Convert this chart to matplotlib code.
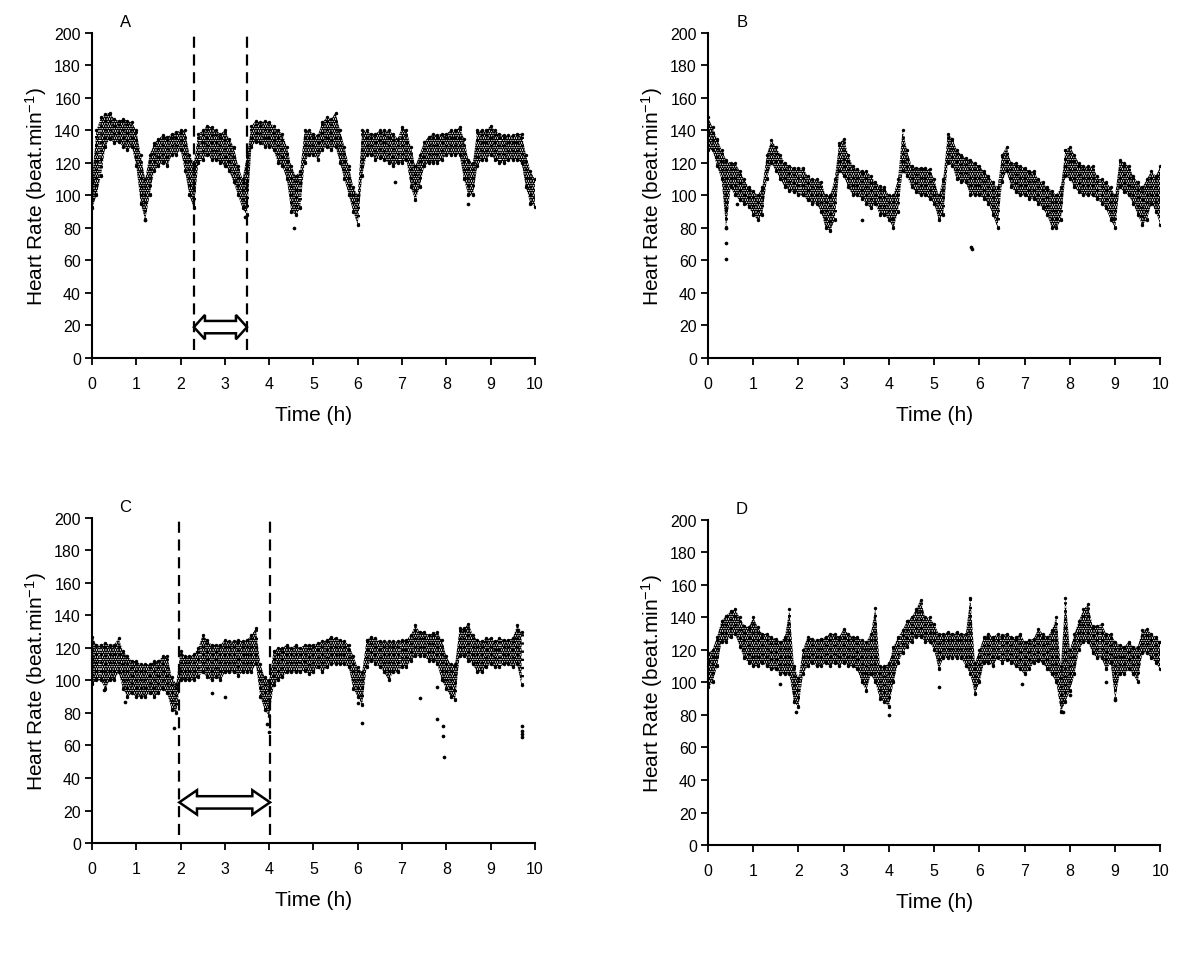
import numpy as np
import matplotlib
matplotlib.use("Agg")
import matplotlib.pyplot as plt
from matplotlib.patches import Polygon

plt.rcParams['font.family'] = ['Liberation Sans', 'DejaVu Sans']
plt.rcParams['mathtext.fontset'] = 'custom'
plt.rcParams['mathtext.rm'] = 'Liberation Sans'
plt.rcParams['mathtext.it'] = 'Liberation Sans'
plt.rcParams['hatch.linewidth'] = 2.2
plt.rcParams['hatch.color'] = 'black'

# time base, 0.1 h steps (panel C ends at 9.7 h)
t_full = [round(0.1 * i, 1) for i in range(101)]
t_c = [round(0.1 * i, 1) for i in range(98)]

# panel A: upper / lower edge of the dot cloud
a_hi = [110, 140, 148, 150, 151, 147, 146, 147, 146, 145,
        140, 125, 110, 125, 132, 135, 137, 136, 138, 139,
        140, 140, 125, 120, 138, 140, 143, 142, 140, 138,
        140, 135, 130, 118, 110, 125, 143, 146, 145, 146,
        145, 143, 140, 138, 130, 118, 112, 115, 140, 140,
        138, 137, 145, 148, 147, 151, 140, 130, 118, 105,
        100, 140, 140, 138, 138, 140, 140, 140, 138, 135,
        142, 140, 130, 118, 125, 133, 136, 138, 137, 138,
        138, 140, 140, 142, 135, 122, 120, 140, 140, 140,
        143, 140, 138, 137, 137, 137, 138, 138, 125, 115, 110]
a_lo = [92, 100, 112, 130, 135, 132, 133, 130, 128, 130,
        118, 95, 85, 100, 115, 118, 120, 118, 125, 125,
        128, 115, 100, 92, 120, 122, 125, 122, 122, 120,
        118, 115, 108, 100, 92, 88, 130, 133, 132, 130,
        130, 128, 120, 118, 110, 90, 88, 92, 120, 125,
        125, 122, 128, 130, 128, 130, 120, 110, 100, 90,
        82, 112, 125, 125, 122, 123, 122, 120, 118, 120,
        120, 122, 105, 97, 105, 118, 120, 120, 120, 122,
        125, 125, 125, 125, 110, 100, 100, 118, 122, 122,
        125, 122, 120, 120, 122, 122, 122, 120, 105, 95, 93]
a_out_t = [4.55, 6.85, 8.5, 3.45, 1.2]
a_out_v = [80, 108, 95, 87, 85]

# panel B
b_hi = [148, 142, 135, 128, 122, 120, 120, 115, 110, 105,
        103, 100, 105, 125, 134, 130, 125, 120, 118, 117,
        117, 117, 112, 110, 110, 108, 100, 100, 110, 132,
        135, 125, 118, 116, 115, 115, 112, 108, 106, 105,
        100, 100, 110, 140, 128, 118, 117, 117, 117, 116,
        110, 100, 110, 138, 135, 128, 125, 123, 122, 120,
        118, 115, 112, 108, 105, 125, 130, 120, 120, 118,
        117, 115, 115, 110, 108, 105, 103, 100, 105, 128,
        130, 125, 120, 118, 118, 118, 112, 110, 108, 105,
        100, 122, 120, 118, 112, 108, 105, 110, 115, 112, 118]
b_lo = [128, 128, 118, 110, 80, 105, 100, 97, 95, 93,
        88, 85, 88, 110, 120, 115, 110, 105, 103, 102,
        100, 100, 97, 95, 95, 90, 80, 78, 85, 115,
        112, 105, 100, 100, 98, 95, 92, 95, 88, 88,
        85, 80, 90, 115, 112, 105, 102, 100, 100, 98,
        95, 85, 88, 120, 118, 110, 108, 108, 100, 100,
        100, 98, 95, 88, 80, 108, 115, 105, 102, 100,
        100, 98, 98, 95, 92, 88, 80, 80, 85, 112,
        110, 105, 102, 100, 100, 100, 98, 95, 92, 85,
        80, 105, 102, 100, 95, 88, 82, 85, 95, 90, 82]
b_out_t = [0.4, 0.4, 0.4, 0.4, 5.82, 5.84, 0.65, 3.4]
b_out_v = [92, 80, 71, 61, 68, 67, 95, 85]

# panel C
c_hi = [127, 122, 122, 123, 122, 122, 126, 118, 115, 112,
        112, 110, 110, 110, 112, 112, 115, 115, 102, 98,
        118, 115, 115, 116, 120, 128, 125, 122, 122, 122,
        125, 124, 124, 125, 124, 125, 128, 132, 110, 102,
        100, 118, 120, 120, 122, 120, 122, 120, 122, 122,
        122, 123, 124, 125, 127, 126, 125, 124, 122, 115,
        108, 105, 125, 127, 126, 124, 124, 124, 124, 124,
        125, 125, 128, 134, 130, 130, 128, 129, 130, 125,
        115, 110, 110, 132, 132, 135, 128, 125, 124, 126,
        126, 124, 126, 125, 125, 126, 134, 130]
c_lo = [98, 100, 100, 95, 100, 100, 105, 95, 90, 92,
        90, 90, 90, 92, 90, 92, 95, 92, 82, 80,
        100, 100, 100, 100, 102, 105, 102, 100, 102, 100,
        105, 105, 105, 103, 105, 105, 105, 110, 90, 82,
        78, 97, 100, 102, 105, 105, 105, 105, 106, 104,
        105, 108, 105, 108, 110, 110, 110, 110, 108, 95,
        90, 85, 108, 112, 110, 108, 105, 100, 105, 105,
        108, 108, 112, 115, 115, 115, 112, 112, 110, 100,
        95, 90, 88, 115, 115, 112, 110, 105, 105, 108,
        110, 108, 108, 110, 110, 108, 110, 97]
c_out_t = [0.28, 0.75, 1.85, 2.7, 3.0, 3.95, 4.0, 6.0, 6.1, 7.4, 7.8, 7.8, 7.92, 7.93, 7.95, 9.7, 9.7, 9.7, 9.7]
c_out_v = [94, 87, 71, 92, 90, 73, 68, 86, 74, 89, 96, 76, 72, 66, 53, 72, 69, 67, 65]

# panel D
d_hi = [118, 120, 128, 138, 141, 144, 145, 140, 135, 134,
        140, 134, 130, 130, 128, 127, 125, 128, 145, 110,
        103, 120, 128, 127, 126, 127, 128, 130, 130, 128,
        133, 130, 128, 128, 126, 125, 130, 146, 110, 110,
        112, 122, 128, 132, 138, 140, 145, 151, 140, 140,
        136, 130, 130, 131, 130, 131, 130, 130, 152, 112,
        120, 128, 130, 128, 130, 129, 130, 128, 128, 130,
        125, 126, 127, 133, 130, 128, 132, 140, 110, 152,
        120, 130, 138, 145, 148, 135, 135, 136, 130, 130,
        125, 123, 122, 125, 122, 122, 132, 133, 130, 128, 125]
d_lo = [97, 100, 110, 125, 125, 128, 130, 122, 115, 112,
        110, 110, 112, 110, 108, 108, 105, 105, 105, 88,
        85, 105, 110, 112, 110, 110, 112, 110, 112, 110,
        112, 110, 110, 108, 100, 95, 105, 100, 90, 88,
        85, 100, 112, 118, 122, 125, 128, 128, 125, 125,
        120, 108, 115, 115, 115, 115, 115, 110, 105, 93,
        100, 112, 112, 110, 115, 112, 114, 112, 110, 108,
        105, 108, 112, 113, 112, 108, 105, 100, 82, 88,
        95, 105, 120, 125, 125, 118, 115, 115, 108, 112,
        90, 105, 105, 108, 105, 100, 118, 118, 115, 112, 108]
d_out_t = [1.6, 1.95, 4.0, 5.1, 6.95, 8.0, 8.8, 9.0, 7.85]
d_out_v = [99, 82, 80, 97, 99, 92, 100, 89, 82]

panels = [
    ('A', t_full, a_hi, a_lo, a_out_t, a_out_v, (2.3, 3.5), 19),
    ('B', t_full, b_hi, b_lo, b_out_t, b_out_v, None, None),
    ('C', t_c, c_hi, c_lo, c_out_t, c_out_v, (1.97, 4.02), 25),
    ('D', t_full, d_hi, d_lo, d_out_t, d_out_v, None, None),
]

# axes boxes in figure fractions
boxes = [
    [0.0767, 0.6237, 0.369, 0.3407],
    [0.590, 0.6237, 0.377, 0.3407],
    [0.0767, 0.1153, 0.369, 0.3407],
    [0.590, 0.1132, 0.377, 0.3407],
]


def hollow_darrow(ax, x0, x1, y, head_len, head_h, shaft_h):
    # outline polygon of a double headed block arrow
    pts = [(x0, y), (x0 + head_len, y + head_h), (x0 + head_len, y + shaft_h),
           (x1 - head_len, y + shaft_h), (x1 - head_len, y + head_h), (x1, y),
           (x1 - head_len, y - head_h), (x1 - head_len, y - shaft_h),
           (x0 + head_len, y - shaft_h), (x0 + head_len, y - head_h)]
    ax.add_patch(Polygon(pts, closed=True, facecolor='white', edgecolor='black',
                         linewidth=1.8, zorder=5))


fig = plt.figure(figsize=(12, 9.54), dpi=100)

for (letter, t, hi, lo, ot, ov, marks, ay), box in zip(panels, boxes):
    ax = fig.add_axes(box)
    t = np.array(t)
    hi = np.array(hi)
    lo = np.array(lo)
    # dot cloud between the edges
    ax.fill_between(t, lo, hi, facecolor='none', edgecolor='black',
                    hatch='.......', linewidth=0)
    ax.vlines(t, lo, hi, colors='black', linewidth=2.1, linestyles=(0, (0.8, 2.0)))
    ax.scatter(t, hi, s=6, color='black', linewidths=0)
    ax.scatter(t, lo, s=6, color='black', linewidths=0)
    ax.scatter(ot, ov, s=7, color='black', linewidths=0)

    if marks is not None:
        ax.vlines(marks, 5, 200, colors='black', linewidth=1.6,
                  linestyles=(0, (5, 3)), clip_on=False, zorder=4)
        hl = 0.25 if letter == 'A' else 0.4
        hollow_darrow(ax, marks[0], marks[1], ay, hl, 7.5, 3.8)

    ax.set_xlim(0, 10)
    ax.set_ylim(0, 200)
    ax.set_xticks(range(0, 11))
    ax.set_yticks(range(0, 201, 20))
    ax.spines['top'].set_visible(False)
    ax.spines['right'].set_visible(False)
    ax.spines['left'].set_linewidth(1.5)
    ax.spines['bottom'].set_linewidth(1.5)
    ax.tick_params(direction='out', length=5, width=1.3, labelsize=11.5)
    ax.tick_params(axis='x', pad=8)
    ax.tick_params(axis='y', pad=3)
    ax.set_xlabel('Time (h)', fontsize=15, labelpad=10)
    ax.set_ylabel('Heart Rate (beat.min$^{-1}$)', fontsize=15, labelpad=4)
    ax.text(0.075, 1.012, letter, transform=ax.transAxes, fontsize=12,
            ha='center', va='bottom')

fig.savefig('out.png', dpi=100)
